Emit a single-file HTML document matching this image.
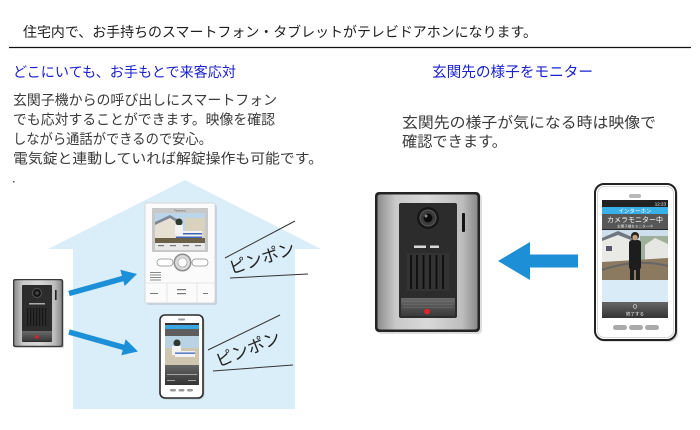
<!DOCTYPE html>
<html><head><meta charset="utf-8"><style>
html,body{margin:0;padding:0;background:#fff;}
svg{display:block;}
text{font-family:"Liberation Sans","Noto Sans CJK JP",sans-serif;}
</style></head><body>
<svg width="700" height="430" viewBox="0 0 700 430" xmlns="http://www.w3.org/2000/svg">
<defs>
<linearGradient id="silver" x1="0" y1="0" x2="1" y2="0">
<stop offset="0" stop-color="#8d8d8d"/><stop offset="0.18" stop-color="#c9c9c9"/><stop offset="0.5" stop-color="#d9d9d9"/><stop offset="0.85" stop-color="#bdbdbd"/><stop offset="1" stop-color="#8a8a8a"/>
</linearGradient>
<linearGradient id="btn" x1="0" y1="0" x2="0" y2="1">
<stop offset="0" stop-color="#6a6a6a"/><stop offset="1" stop-color="#3a3a3a"/>
</linearGradient>
<linearGradient id="dk" x1="0" y1="0" x2="0" y2="1">
<stop offset="0" stop-color="#666"/><stop offset="1" stop-color="#333"/>
</linearGradient>
</defs>

<!-- heading -->
<text x="23" y="37" font-size="14" fill="#1e1e1e" textLength="514" lengthAdjust="spacingAndGlyphs">住宅内で、お手持ちのスマートフォン・タブレットがテレビドアホンになります。</text>
<line x1="9" y1="47.5" x2="691" y2="47.5" stroke="#111" stroke-width="1.3"/>

<text x="13" y="77" font-size="14" fill="#1a22d0" textLength="223" lengthAdjust="spacingAndGlyphs">どこにいても、お手もとで来客応対</text>
<text x="432" y="77" font-size="14.5" fill="#1a22d0" textLength="161" lengthAdjust="spacingAndGlyphs">玄関先の様子をモニター</text>

<g font-size="14" fill="#3a3a3a">
<text x="13" y="105" textLength="264" lengthAdjust="spacingAndGlyphs">玄関子機からの呼び出しにスマートフォン</text>
<text x="13" y="124.5" textLength="262" lengthAdjust="spacingAndGlyphs">でも応対することができます。映像を確認</text>
<text x="13" y="144" textLength="199" lengthAdjust="spacingAndGlyphs">しながら通話ができるので安心。</text>
<text x="13" y="163.5" textLength="310" lengthAdjust="spacingAndGlyphs">電気錠と連動していれば解錠操作も可能です。</text>
</g>
<rect x="13" y="181" width="1.5" height="1.5" fill="#555"/>

<g font-size="15" fill="#3a3a3a">
<text x="402" y="127.5" textLength="254" lengthAdjust="spacingAndGlyphs">玄関先の様子が気になる時は映像で</text>
<text x="402" y="146.5" textLength="105" lengthAdjust="spacingAndGlyphs">確認できます。</text>
</g>

<!-- house -->
<polygon points="48,249 185,180 321,249" fill="#daeefa"/>
<rect x="73" y="248" width="222" height="161" fill="#daeefa"/>

<!-- small door station -->
<rect x="14" y="280" width="50" height="68" rx="2" fill="#9a9a9a" opacity="0.5"/>
<rect x="13" y="279" width="50" height="68" rx="2" fill="#3a3a3a"/>
<rect x="14.3" y="280.3" width="47.4" height="65.4" rx="1.5" fill="url(#silver)"/>
<rect x="22" y="285" width="30" height="57" rx="1" fill="#2c2c2c"/>
<circle cx="37" cy="293" r="4.5" fill="#151515" stroke="#555" stroke-width="1"/>
<circle cx="37" cy="293" r="1.8" fill="#444"/>
<rect x="29" y="303" width="16" height="1.5" fill="#aaa"/>
<g fill="#161616"><rect x="27" y="308" width="1.2" height="18"/><rect x="30" y="308" width="1.2" height="18"/><rect x="33" y="308" width="1.2" height="18"/><rect x="36" y="308" width="1.2" height="18"/><rect x="39" y="308" width="1.2" height="18"/><rect x="42" y="308" width="1.2" height="18"/><rect x="45" y="308" width="1.2" height="18"/></g>
<rect x="22" y="331" width="30" height="10" fill="url(#btn)"/>
<circle cx="37" cy="337" r="1.8" fill="#e3202a"/>
<rect x="55" y="290" width="1.6" height="10" fill="#222"/>

<!-- arrows left -->
<g fill="#1b8fd8" stroke="#1b8fd8">
<line x1="69" y1="293.5" x2="124" y2="278.2" stroke-width="5.5"/>
<polygon points="137,274 124.7,286 120.3,269.8" stroke="none"/>
<line x1="69" y1="332" x2="125" y2="347.8" stroke-width="5.5"/>
<polygon points="138,351.5 121.3,355.2 125.7,339.3" stroke="none"/>
</g>

<!-- indoor monitor -->
<rect x="147" y="205" width="70" height="100" rx="2" fill="#b9c3ca" opacity="0.6"/>
<rect x="145" y="203" width="70" height="100" rx="2" fill="#fbfbfb" stroke="#d0d0d0" stroke-width="0.8"/>
<rect x="152" y="208" width="56" height="44" fill="#c8c8c8"/>
<text x="180" y="211.5" font-size="2.5" fill="#666" text-anchor="middle">Panasonic</text>
<rect x="155" y="213" width="50" height="30" fill="#bcd5e8"/>
<polygon points="155,222 170,216 178,222 178,243 155,243" fill="#e7e0d2"/>
<polygon points="155,222 170,215 180,221 178,223 170,218 155,225" fill="#7d8896"/>
<rect x="185" y="218" width="20" height="25" fill="#d9d2bf"/>
<rect x="176" y="231" width="26" height="8" fill="#f4f4f4"/>
<rect x="176" y="233" width="26" height="1.5" fill="#3c63b8"/>
<rect x="176" y="236.5" width="26" height="1.5" fill="#3c63b8"/>
<circle cx="179" cy="222" r="3.5" fill="#2f3a2f"/>
<rect x="175" y="225" width="8" height="10" fill="#f2f2f2"/>
<rect x="155" y="238" width="50" height="5" fill="#6b6148"/>
<rect x="155" y="243" width="50" height="7" fill="#e8e8e8"/>
<g fill="#777"><rect x="158" y="245" width="6" height="1.2"/><rect x="170" y="245" width="6" height="1.2"/><rect x="183" y="245" width="6" height="1.2"/><rect x="195" y="245" width="6" height="1.2"/></g>
<rect x="157" y="259" width="16" height="7" rx="3.5" fill="#fff" stroke="#888" stroke-width="0.7"/>
<rect x="192" y="259" width="16" height="7" rx="3.5" fill="#fff" stroke="#888" stroke-width="0.7"/>
<circle cx="182.5" cy="262.5" r="9" fill="#8e8e8e"/>
<circle cx="182.5" cy="262.5" r="7.5" fill="#d9d9d9"/>
<circle cx="182.5" cy="262.5" r="4.5" fill="#fbfbfb" stroke="#999" stroke-width="0.6"/>
<g fill="#888"><rect x="150" y="272" width="11" height="1"/><rect x="150" y="274.5" width="11" height="1"/><rect x="150" y="277" width="11" height="1"/><rect x="150" y="279.5" width="11" height="1"/></g>
<line x1="146" y1="283" x2="214" y2="283" stroke="#ddd" stroke-width="0.7"/>
<line x1="167" y1="283" x2="167" y2="302" stroke="#ddd" stroke-width="0.7"/>
<line x1="197" y1="283" x2="197" y2="302" stroke="#ddd" stroke-width="0.7"/>
<g fill="#777"><rect x="150" y="293" width="8" height="1"/><rect x="177" y="289" width="9" height="1.2"/><rect x="177" y="293" width="9" height="1.2"/><rect x="203" y="293" width="5" height="1"/></g>

<!-- lower phone -->
<rect x="161.5" y="316.5" width="43" height="83" rx="5" fill="#9aa" opacity="0.5"/>
<rect x="160" y="315" width="43" height="83" rx="5" fill="#fff" stroke="#2a2a2a" stroke-width="1.6"/>
<rect x="178" y="318.5" width="7" height="2" rx="1" fill="#999"/>
<rect x="165" y="323" width="34" height="62" fill="#333"/>
<rect x="165" y="325" width="34" height="4" fill="#3aa7e2"/>
<rect x="165" y="329" width="34" height="7" fill="#5d5d5d"/>
<rect x="165" y="336" width="34" height="29" fill="#b9d2e4"/>
<rect x="165" y="348" width="34" height="17" fill="#cfc6b0"/>
<circle cx="177" cy="343" r="3.5" fill="#2f3a2f"/>
<rect x="172" y="346" width="9" height="9" fill="#f3f3f3"/>
<rect x="175" y="351" width="20" height="6" fill="#f3f3f3"/>
<rect x="175" y="352.5" width="20" height="1.3" fill="#3c63b8"/>
<rect x="165" y="365" width="34" height="20" fill="url(#dk)"/>
<g fill="#bbb"><rect x="167" y="374" width="30" height="0.8"/><rect x="167" y="380" width="8" height="0.8"/><rect x="188" y="380" width="8" height="0.8"/></g>
<g fill="#999"><rect x="170" y="389" width="6" height="2.5" rx="1.2"/><rect x="178.5" y="389" width="6" height="2.5" rx="1.2"/><rect x="187" y="389" width="6" height="2.5" rx="1.2"/></g>

<!-- ピンポン left upper -->
<line x1="225" y1="258" x2="295" y2="221" stroke="#333" stroke-width="1"/>
<line x1="230" y1="278" x2="308" y2="274" stroke="#333" stroke-width="1"/>
<text x="262" y="264" font-size="17" fill="#222" text-anchor="middle" transform="rotate(-18 262 258)">ピンポン</text>
<!-- ピンポン left lower -->
<line x1="208" y1="350" x2="280" y2="315" stroke="#333" stroke-width="1"/>
<line x1="213" y1="371" x2="293" y2="365" stroke="#333" stroke-width="1"/>
<text x="248" y="355" font-size="17" fill="#222" text-anchor="middle" transform="rotate(-22 248 349)">ピンポン</text>

<!-- big door station -->
<rect x="377" y="194" width="105" height="140" rx="4" fill="#bbb" opacity="0.5"/>
<rect x="375" y="192" width="105" height="140" rx="4" fill="#242424"/>
<rect x="377.5" y="194.5" width="100" height="135" rx="2.5" fill="url(#silver)"/>
<rect x="399" y="203" width="58" height="115" rx="2" fill="#2c2c2c"/>
<circle cx="428" cy="218" r="11" fill="#161616"/>
<circle cx="428" cy="218" r="8" fill="#3b3b3b" stroke="#5a5a5a" stroke-width="1"/>
<circle cx="428" cy="218" r="4.5" fill="#0b0b0b"/>
<circle cx="426" cy="216" r="1.5" fill="#888"/>
<g fill="#d8d8d8"><rect x="414" y="245.5" width="12" height="2.5"/><rect x="430" y="245.5" width="9" height="2.5"/></g>
<rect x="407" y="253" width="42" height="38" fill="#333"/>
<g fill="#101010"><rect x="410" y="255" width="2" height="34"/><rect x="416" y="255" width="2" height="34"/><rect x="422.5" y="255" width="2" height="34"/><rect x="429" y="255" width="2" height="34"/><rect x="435.5" y="255" width="2" height="34"/><rect x="442" y="255" width="2" height="34"/></g>
<rect x="401" y="298" width="54" height="18" rx="1" fill="url(#btn)"/>
<g fill="#777" opacity="0.6"><rect x="403" y="301" width="50" height="0.8"/><rect x="403" y="304" width="50" height="0.8"/><rect x="403" y="307" width="50" height="0.8"/></g>
<circle cx="427" cy="311.5" r="2.8" fill="#e8202a"/>
<rect x="462" y="213" width="3" height="19" rx="1" fill="#151515"/>

<!-- big arrow -->
<polygon points="498,261 530,242 530,254.5 578,254.5 578,267.5 530,267.5 530,280" fill="#1d8fd6"/>

<!-- right phone -->
<rect x="597" y="186" width="81" height="156" rx="9" fill="#bbb" opacity="0.5"/>
<rect x="595" y="184" width="81" height="156" rx="9" fill="#fff" stroke="#222" stroke-width="2"/>
<rect x="597.5" y="186.5" width="76" height="151" rx="7" fill="none" stroke="#ccc" stroke-width="0.8"/>
<rect x="629" y="194" width="12" height="4" rx="2" fill="#b8b8b8"/>
<rect x="602" y="200" width="66" height="118" fill="#222"/>
<text x="666" y="205.5" font-size="4.5" fill="#fff" text-anchor="end">12:23</text>
<rect x="602" y="207" width="66" height="7" fill="#3ab0e8"/>
<text x="635" y="212.8" font-size="5.5" fill="#fff" text-anchor="middle">インターホン</text>
<rect x="602" y="214" width="66" height="15" fill="#575757"/>
<text x="635" y="222" font-size="7" fill="#fff" text-anchor="middle">カメラモニター中</text>
<text x="635" y="227.5" font-size="3.6" fill="#ddd" text-anchor="middle">玄関子機をモニター中</text>
<rect x="602" y="230" width="66" height="50" fill="#cddfeb"/>
<polygon points="602,238 618,232 636,240 636,262 602,262" fill="#e9e9e6"/>
<polygon points="602,238 618,231 637,239 636,242 618,235 602,241" fill="#6e7680"/>
<rect x="606" y="246" width="6" height="5" fill="#556"/>
<rect x="640" y="236" width="28" height="28" fill="#9fb09a"/>
<polygon points="645,245 655,238 668,244 668,262 645,262" fill="#e6e6e2"/>
<polygon points="602,262 668,258 668,280 602,280" fill="#8b7a60"/>
<path d="M602 270 Q635 258 668 266" stroke="#666" stroke-width="2" fill="none"/>
<rect x="629" y="240" width="12" height="30" rx="3" fill="#1d1d1d"/>
<circle cx="635" cy="236" r="4" fill="#2a211a"/>
<ellipse cx="635" cy="237.5" rx="2.6" ry="2.8" fill="#c79e82"/>
<rect x="630" y="268" width="4" height="12" fill="#1d1d1d"/>
<rect x="636" y="268" width="4" height="12" fill="#1d1d1d"/>
<rect x="602" y="280" width="66" height="22" fill="#d8ebf6"/>
<rect x="602" y="302" width="66" height="16" fill="url(#dk)"/>
<circle cx="635" cy="306.5" r="1.8" fill="none" stroke="#eee" stroke-width="0.6"/>
<text x="635" y="315.5" font-size="4.5" fill="#eee" text-anchor="middle">終了する</text>
<g fill="#aaa"><rect x="613" y="325" width="14" height="5" rx="2.5"/><rect x="629" y="325" width="14" height="5" rx="2.5"/><rect x="645" y="325" width="14" height="5" rx="2.5"/></g>
</svg>
</body></html>
